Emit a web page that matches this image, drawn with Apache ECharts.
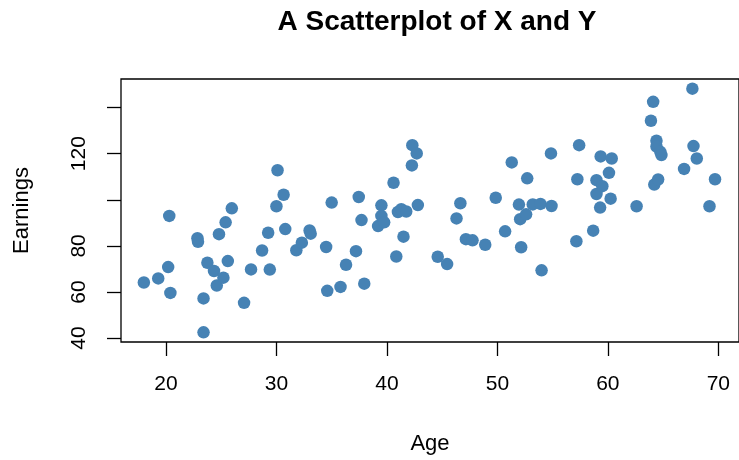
<!DOCTYPE html>
<html>
<head>
<meta charset="utf-8">
<script src="https://cdn.jsdelivr.net/npm/echarts@6/dist/echarts.min.js"></script>
<style>
  html, body { margin: 0; padding: 0; background: #fff; }
</style>
</head>
<body>
<div id="scatter" style="width: 739px; height: 460px"></div>
<script>
// Age / Earnings pairs
const ages = [
  18.0, 19.3, 20.2, 20.4, 20.3, 22.85, 22.9, 23.4, 23.4, 23.75,
  24.35, 24.6, 25.2, 25.6, 24.8, 25.4, 25.96, 27.07, 27.7, 28.7,
  29.4, 29.25, 30.1, 30.65, 30.0, 30.8, 31.8, 32.3, 33.0, 33.1,
  34.5, 34.6, 35.0, 35.8, 36.3, 37.2, 37.45, 37.7, 37.95, 39.2,
  39.5, 39.5, 39.75, 40.6, 40.85, 41.5, 41.0, 41.3, 41.75, 42.3,
  42.7, 42.26, 42.8, 44.6, 45.45, 46.3, 46.65, 47.15, 47.75, 48.9,
  49.85, 50.7, 51.3, 52.15, 51.95, 52.06, 52.6, 52.7, 53.2, 53.9,
  54.9, 54.0, 54.85, 57.15, 57.24, 57.4, 58.67, 58.97, 59.5, 58.97,
  59.3, 60.25, 60.1, 59.35, 60.35, 62.6, 63.9, 64.1, 64.4, 64.4,
  64.75, 64.85, 64.2, 64.55, 67.65, 67.75, 68.05, 66.9, 69.7, 69.2
]
const earnings = [
  64.1, 65.9, 70.8, 59.6, 93.0, 83.3, 81.8, 57.2, 42.5, 72.7,
  69.1, 62.8, 66.2, 73.4, 85.1, 90.2, 96.3, 55.3, 69.8, 78.0,
  69.7, 85.7, 112.8, 102.2, 97.2, 87.3, 78.1, 81.4, 86.7, 85.3,
  79.5, 60.5, 98.8, 62.2, 71.8, 77.7, 101.2, 91.2, 63.6, 88.6,
  97.6, 93.0, 90.2, 107.4, 75.4, 84.0, 94.7, 95.9, 94.9, 123.7,
  120.1, 114.9, 97.7, 75.3, 72.1, 91.9, 98.5, 82.9, 82.4, 80.5,
  100.9, 86.3, 116.2, 79.4, 97.9, 91.6, 93.7, 109.3, 98.0, 98.2,
  97.3, 69.4, 120.1, 82.0, 108.9, 123.7, 86.6, 108.5, 105.9, 102.5,
  96.6, 100.5, 111.7, 118.8, 117.9, 97.2, 134.3, 142.5, 125.6, 123.1,
  120.8, 119.4, 106.6, 108.8, 148.2, 123.3, 117.9, 113.4, 108.9, 97.2
]

const xTicks = [20, 30, 40, 50, 60, 70]
const yTicks = [40, 60, 80, 100, 120, 140]
const yLabels = [40, 60, 80, 120] // R drops 100 and 140 (overlap)

const points = ages.map((a, i) => [a, earnings[i]])

const chart = echarts.init(document.getElementById('scatter'))
const font = '"Liberation Sans", Arial, Helvetica, sans-serif'
const axisStyle = { color: '#000', width: 1.3 }

const option = {
  animation: false,
  backgroundColor: '#fff',
  title: {
    text: 'A Scatterplot of X and Y',
    left: 432,
    top: 3,
    textAlign: 'center',
    textStyle: { fontFamily: font, fontSize: 28, fontWeight: 'bold', color: '#000' }
  },
  grid: {
    show: true,
    left: 121,
    top: 79,
    width: 624,
    bottom: 116.5,
    borderColor: '#000',
    borderWidth: 1.3,
    backgroundColor: 'transparent'
  },
  xAxis: {
    type: 'value',
    min: 15.93,
    max: 71.87,
    name: 'Age',
    nameLocation: 'middle',
    nameGap: 91,
    nameTextStyle: { fontFamily: font, fontSize: 22, color: '#000' },
    axisLine: { show: false },
    axisTick: { show: true, length: 14, lineStyle: axisStyle, customValues: xTicks },
    axisLabel: { fontFamily: font, fontSize: 21, color: '#000', margin: 32, customValues: xTicks },
    splitLine: { show: false }
  },
  yAxis: {
    type: 'value',
    min: 38.3,
    max: 152.4,
    name: 'Earnings',
    nameLocation: 'middle',
    nameGap: 88,
    nameTextStyle: { fontFamily: font, fontSize: 22, color: '#000' },
    axisLine: { show: false },
    axisTick: { show: true, length: 14, lineStyle: axisStyle, customValues: yTicks },
    axisLabel: { fontFamily: font, fontSize: 21, color: '#000', margin: 31, rotate: 90, customValues: yLabels },
    splitLine: { show: false }
  },
  series: [
    {
      type: 'scatter',
      data: points,
      symbol: 'circle',
      symbolSize: 12.5,
      itemStyle: { color: '#4682B4', opacity: 1 }
    }
  ]
}

chart.setOption(option)
</script>
</body>
</html>
